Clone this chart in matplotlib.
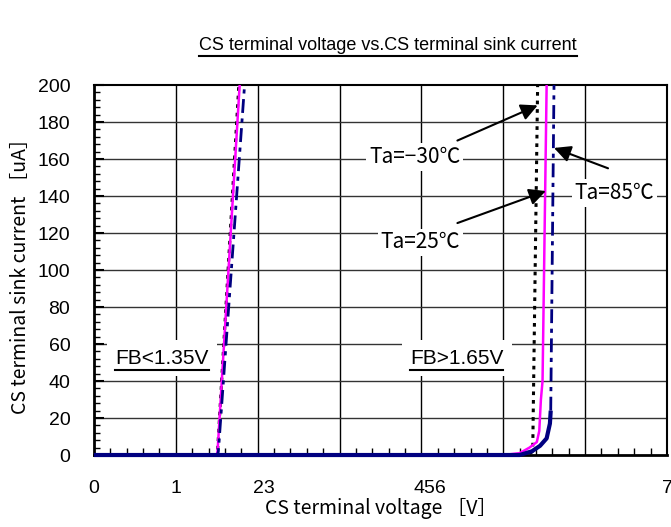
import matplotlib.pyplot as plt
from matplotlib.lines import Line2D

plt.rcParams['font.family'] = ['Liberation Sans', 'Noto Sans CJK JP', 'DejaVu Sans']
CJK = ['Noto Sans CJK JP', 'DejaVu Sans']

# FB<1.35V branch
c30_lo_v = [0.0, 1.50, 1.51, 1.77]
c30_lo_i = [0, 0, 2, 200]
t25_lo_v = [0.0, 1.50, 1.51, 1.78]
t25_lo_i = [0, 0, 2, 200]
h85_lo_v = [0.0, 1.51, 1.52, 1.84]
h85_lo_i = [0, 0, 2, 200]

# FB>1.65V branch
c30_hi_v = [0.0, 5.30, 5.36, 5.42]
c30_hi_i = [0, 0, 2, 200]
t25_hi_v = [0.0, 5.00, 5.20, 5.32, 5.41, 5.44, 5.46, 5.48, 5.53]
t25_hi_i = [0, 0, 1, 4, 7, 13, 30, 40, 200]
h85_hi_v = [0.0, 5.20, 5.35, 5.45, 5.53, 5.57, 5.58, 5.62]
h85_hi_i = [0, 0, 2, 5, 9, 17, 24, 200]
h85_knee = 7  # points before the steep part are drawn solid

x_tick_pos = [0, 1, 2.07, 4.1, 7]
x_tick_labels = ["0", "1", "23", "456", "7"]
y_ticks = list(range(0, 201, 20))

navy = '#000080'
magenta = '#ff00ff'

fig = plt.figure(figsize=(6.71, 5.27), dpi=100)
ax = fig.add_axes([0.140, 0.1366, 0.854, 0.702])

ax.set_xlim(0, 7)
ax.set_ylim(0, 200)

# grid
for xv in range(1, 7):
    ax.axvline(xv, color='black', lw=1.0, zorder=1)
for yv in y_ticks[1:-1]:
    ax.axhline(yv, color='#333333', lw=1.0, zorder=1)

# curves
for v, i in [(c30_lo_v, c30_lo_i), (c30_hi_v, c30_hi_i)]:
    ax.plot(v, i, color='black', lw=2.2, ls=(0, (1.2, 1.6)), zorder=3)
for v, i in [(t25_lo_v, t25_lo_i), (t25_hi_v, t25_hi_i)]:
    ax.plot(v, i, color=magenta, lw=1.8, zorder=4)
ax.plot(h85_lo_v, h85_lo_i, color=navy, lw=2.0, ls=(0, (5, 2, 1.5, 2)), zorder=5)
ax.plot(h85_hi_v[h85_knee - 1:], h85_hi_i[h85_knee - 1:], color=navy, lw=2.0,
        ls=(0, (5, 2, 1.5, 2)), zorder=5)
ax.plot(h85_hi_v[:h85_knee], h85_hi_i[:h85_knee], color=navy, lw=3.0, zorder=5,
        solid_capstyle='butt', clip_on=False)

# ticks
ax.set_yticks(y_ticks)
ax.set_yticks(range(0, 201, 4), minor=True)
ax.set_xticks(range(0, 8))
ax.set_xticks([k * 0.2 for k in range(36)], minor=True)
ax.set_xticklabels([])
ax.tick_params(axis='x', which='major', length=0)
ax.tick_params(axis='x', which='minor', direction='in', length=5, width=1)
ax.tick_params(axis='y', which='major', direction='in', length=7, width=1.5,
               labelsize=14, pad=17)
ax.tick_params(axis='y', which='minor', direction='in', length=4, width=1)
for xp, lab in zip(x_tick_pos, x_tick_labels):
    ax.text(xp, -18, lab, ha='center', va='center', fontsize=14,
            transform=ax.transData)

for side in ['left', 'bottom']:
    ax.spines[side].set_linewidth(2.0)
for side in ['top', 'right']:
    ax.spines[side].set_linewidth(1.5)

fig.text(0.568, 0.036, 'CS terminal voltage ［V］', ha='center', va='center',
         fontsize=14, family=CJK)
fig.text(0.030, 0.486, 'CS terminal sink current ［uA］', ha='center', va='center',
         rotation=90, fontsize=14, family=CJK)

box = dict(facecolor='white', edgecolor='none', pad=2)
arrow = dict(arrowstyle='-|>,head_length=0.5,head_width=0.25', color='black',
             lw=1.5, mutation_scale=20, shrinkA=0, shrinkB=0)

ax.annotate('', xy=(5.42, 189), xytext=(4.44, 170), arrowprops=arrow, zorder=6)
ax.annotate('', xy=(5.52, 142.7), xytext=(4.44, 125.4), arrowprops=arrow, zorder=6)
ax.annotate('', xy=(5.62, 166), xytext=(6.28, 155), arrowprops=arrow, zorder=6)
ax.text(3.92, 161, 'Ta=−30℃', ha='center', va='center', fontsize=15, family=CJK,
        bbox=box, zorder=7)
ax.text(3.99, 115, 'Ta=25℃', ha='center', va='center', fontsize=15, family=CJK,
        bbox=box, zorder=7)
ax.text(6.36, 141.6, 'Ta=85℃', ha='center', va='center', fontsize=15, family=CJK,
        bbox=box, zorder=7)

fb_box = dict(facecolor='white', edgecolor='none', pad=6)
fb_texts = [
    ax.text(0.83, 52.4, 'FB<1.35V', ha='center', va='center', fontsize=15,
            bbox=fb_box, zorder=7),
    ax.text(4.43, 52.4, 'FB>1.65V', ha='center', va='center', fontsize=15,
            bbox=fb_box, zorder=7),
]

title = fig.text(0.578, 0.913, 'CS terminal voltage vs.CS terminal sink current',
                 ha='center', va='center', fontsize=13)

# underline the title and the FB labels
fig.canvas.draw()
renderer = fig.canvas.get_renderer()
W, H = fig.bbox.width, fig.bbox.height
for t in [title] + fb_texts:
    bb = t.get_window_extent(renderer)
    y = bb.y0 - 2
    fig.add_artist(Line2D([bb.x0 / W, bb.x1 / W], [y / H, y / H],
                          color='black', lw=1.5, transform=fig.transFigure,
                          zorder=8))

fig.savefig('out.png', dpi=100)
